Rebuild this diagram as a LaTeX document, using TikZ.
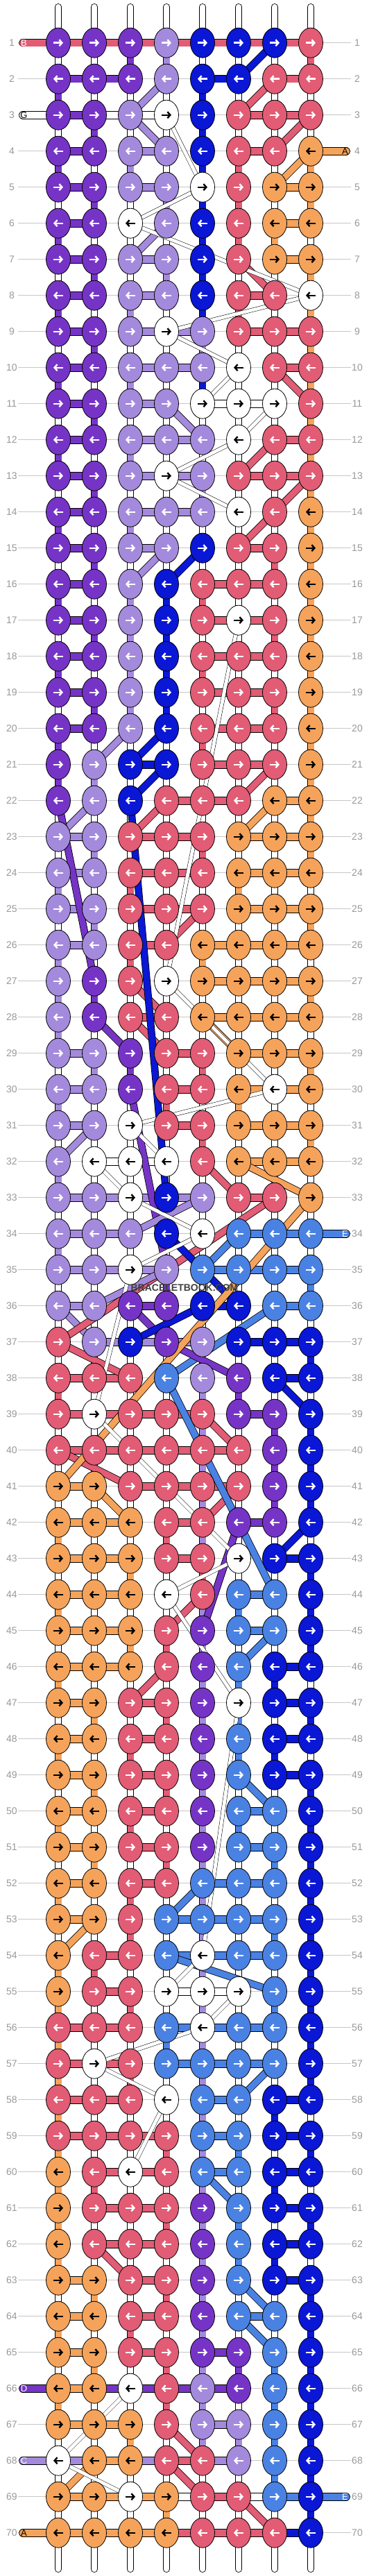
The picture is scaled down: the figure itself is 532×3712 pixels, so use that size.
\documentclass[tikz,border=0pt]{standalone}
\usepackage{fontspec}
\setmainfont{Liberation Sans}
\usetikzlibrary{arrows.meta,shapes.geometric}
\definecolor{kP}{HTML}{7634C7}
\definecolor{kL}{HTML}{A48ADC}
\definecolor{kB}{HTML}{0A17D5}
\definecolor{kR}{HTML}{E15C74}
\definecolor{kO}{HTML}{F5A35B}
\definecolor{kS}{HTML}{4A82E3}
\definecolor{kW}{HTML}{FFFFFF}
\colorlet{aP}{white}\colorlet{aL}{white}\colorlet{aB}{white}\colorlet{aR}{white}
\colorlet{aS}{white}\colorlet{aO}{black}\colorlet{aW}{black}
\tikzset{
 rowline/.style={draw=black!22, line width=1pt},
 rowlab/.style={text=black!40, font=\fontsize{14}{14}\selectfont, inner sep=0pt},
 colstr/.style={draw=black, line width=0.8pt, double=white, double distance=8.4pt, line cap=round},
 bar/.style={draw=black, line width=0.8pt, double=#1, double distance=9pt},
 hbar/.style={draw=black, line width=0.8pt, double=#1, double distance=10pt},
 lbar/.style={draw=black, line width=0.8pt, double=#1, double distance=10pt, line cap=round},
 wthin/.style={draw=black, line width=0.5pt, double=white, double distance=5pt},
 knot/.style={ellipse, draw=black, line width=0.8pt, minimum width=35pt, minimum height=43pt, inner sep=0pt},
 arr/.style={line width=2.4pt, -{Straight Barb[length=4pt,width=9pt]}},
 lettxt/.style={font=\fontsize{13}{13}\selectfont, inner sep=0pt},
}
\begin{document}
\begin{tikzpicture}[x=1pt,y=1pt]
\useasboundingbox (0,0) rectangle (532,-3712);
\fill[white] (0,0) rectangle (532,-3712);
% knot colours
\foreach \r/\row in {
1/{P,P,P,L,B,B,B,R},2/{P,P,P,L,B,B,R,R},3/{P,P,L,W,B,R,R,R},4/{P,P,L,L,B,R,R,O},
5/{P,P,L,L,W,R,O,O},6/{P,P,W,L,B,R,O,O},7/{P,P,L,L,B,R,O,O},8/{P,P,L,L,B,R,R,W},
9/{P,P,L,W,L,R,R,R},10/{P,P,L,L,L,W,R,R},11/{P,P,L,L,W,W,W,R},12/{P,P,L,L,L,W,R,R},
13/{P,P,L,W,L,R,R,R},14/{P,P,L,L,L,W,R,O},15/{P,P,L,L,B,R,R,O},16/{P,P,L,B,R,R,R,O},
17/{P,P,L,B,R,W,R,O},18/{P,P,L,B,R,R,R,O},19/{P,P,L,B,R,R,R,O},20/{P,P,L,B,R,R,R,O},
21/{P,L,B,B,R,R,R,O},22/{P,L,B,R,R,R,O,O},23/{L,L,R,R,R,O,O,O},24/{L,L,R,R,R,O,O,O},
25/{L,L,R,R,R,O,O,O},26/{L,L,R,R,O,O,O,O},27/{L,P,R,W,O,O,O,O},28/{L,P,R,R,O,O,O,O},
29/{L,L,P,R,R,O,O,O},30/{L,L,P,R,R,O,W,O},31/{L,L,W,R,R,O,O,O},32/{L,W,W,W,R,O,O,O},
33/{L,L,W,B,L,R,R,O},34/{L,L,L,B,W,S,S,S},35/{L,L,W,L,S,S,S,S},36/{L,L,P,P,B,B,S,S},
37/{R,L,B,P,L,B,B,B},38/{R,R,R,S,L,P,B,B},39/{R,W,R,R,R,P,P,B},40/{R,R,R,R,R,R,P,B},
41/{O,O,R,R,R,R,P,B},42/{O,O,O,R,R,P,P,B},43/{O,O,O,R,R,W,B,B},44/{O,O,O,W,R,S,S,B},
45/{O,O,O,R,P,S,S,B},46/{O,O,O,R,P,S,B,B},47/{O,O,R,R,P,W,B,B},48/{O,O,R,R,P,S,B,B},
49/{O,O,R,R,P,S,B,B},50/{O,O,R,R,P,S,S,B},51/{O,O,R,R,P,S,S,B},52/{O,O,R,R,S,S,S,B},
53/{O,O,R,S,S,S,S,B},54/{O,R,R,S,W,S,S,B},55/{O,R,R,W,W,W,S,B},56/{R,R,R,S,W,S,S,B},
57/{R,W,R,S,S,S,S,B},58/{R,R,R,W,S,S,B,B},59/{R,R,R,R,S,S,B,B},60/{O,R,W,R,S,S,B,B},
61/{O,R,R,R,P,S,B,B},62/{O,R,R,R,P,S,B,B},63/{O,O,R,R,P,S,B,B},64/{O,O,R,R,P,S,S,B},
65/{O,O,R,R,P,P,S,B},66/{O,O,W,R,L,P,S,B},67/{O,O,O,R,L,L,S,B},68/{W,O,O,R,R,L,S,B},
69/{O,O,W,O,R,R,S,B},70/{O,O,O,O,R,R,R,B}}{
  \foreach \c [count=\i] in \row {\expandafter\xdef\csname K\r-\i\endcsname{\c}}
}
% grid coordinates, row lines, row numbers
\foreach \r in {1,...,70}{
  \pgfmathsetmacro\yy{-61.7-52*(\r-1)}
  \foreach \c in {1,...,8}{\coordinate (p\r-\c) at ({84+52*(\c-1)},\yy);}
  \coordinate (gl\r) at (26,\yy);
  \coordinate (gr\r) at (506,\yy);
  \draw[rowline] (gl\r) -- (gr\r);
  \node[rowlab] (nl\r) at (17,\yy) {\r};
  \node[rowlab] (nr\r) at (515,\yy) {\r};
}
% vertical white strings
\foreach \c in {1,...,8}{
  \coordinate (top\c) at ({84+52*(\c-1)},-10);
  \coordinate (bot\c) at ({84+52*(\c-1)},-3702);
  \draw[colstr] (top\c) -- (bot\c);
}
% hidden light purple string in column 5
\foreach \r in {37,...,67}{\pgfmathtruncatemacro\rr{\r+1}\draw[bar=kL] (p\r-5) -- (p\rr-5);}
% vertical and diagonal links between successive rows
\foreach \r/\a/\b/\col in {
1/3/3/P,1/4/4/L,1/7/6/B,1/8/8/R,
2/1/1/P,2/4/3/L,2/5/5/B,2/7/6/R,
3/2/2/P,3/3/4/L,3/5/5/B,3/8/7/R,
4/1/1/P,4/3/3/L,4/5/5/B,4/6/6/R,4/8/8/O,4/8/7/O,
5/2/2/P,5/4/4/L,5/5/5/B,5/6/6/R,5/8/8/O,
6/1/1/P,6/4/3/L,6/5/5/B,6/6/6/R,6/7/7/O,
7/2/2/P,7/4/4/L,7/5/5/B,7/6/7/R,7/8/8/O,
8/1/1/P,8/3/3/L,8/5/5/B,8/6/6/R,8/8/8/O,
9/2/2/P,9/5/5/L,9/8/8/O,
10/1/1/P,10/3/3/L,10/5/5/B,10/8/8/O,10/7/8/R,
11/2/2/P,11/4/5/L,11/8/8/O,
12/1/1/P,12/3/3/L,12/8/8/O,12/7/6/R,
13/2/2/P,13/5/5/L,13/8/8/O,13/8/7/R,
14/1/1/P,14/3/3/L,14/7/6/R,14/8/8/O,
15/2/2/P,15/4/3/L,15/5/4/B,15/7/7/R,15/8/8/O,
16/1/1/P,16/3/3/L,16/4/4/B,16/5/5/R,16/8/8/O,
17/2/2/P,17/3/3/L,17/4/4/B,17/7/7/R,17/8/8/O,
18/1/1/P,18/3/3/L,18/4/4/B,18/5/5/R,18/8/8/O,
19/2/2/P,19/3/3/L,19/4/4/B,19/7/7/R,19/8/8/O,
20/1/1/P,20/3/2/L,20/4/3/B,20/5/5/R,20/8/8/O,
21/1/1/P,21/2/2/L,21/4/3/B,21/7/6/R,21/8/8/O,
22/2/1/L,22/4/3/R,22/8/8/O,22/7/6/O,
23/2/2/L,23/5/5/R,23/8/8/O,
24/1/1/L,24/3/3/R,24/6/6/O,
25/2/2/L,25/5/4/R,25/8/8/O,
26/1/1/L,26/3/3/R,26/5/5/O,
27/1/1/L,27/2/2/P,27/3/4/R,27/8/8/O,
28/1/1/L,28/2/3/P,28/3/4/R,28/5/6/O,
29/2/2/L,29/3/3/P,29/5/5/R,29/8/8/O,
30/1/1/L,30/4/4/R,30/6/6/O,
31/2/1/L,31/5/5/R,31/8/8/O,
32/1/1/L,32/5/6/R,
34/1/1/L,34/6/5/S,
35/8/8/S,35/4/4/P,
36/1/2/L,36/3/4/P,
37/8/8/B,
38/1/1/R,38/6/6/P,38/7/8/B,
39/5/6/R,39/7/7/P,39/8/8/B,
40/7/7/P,40/8/8/B,
41/2/3/O,41/6/5/R,41/7/7/P,41/8/8/B,
42/1/1/O,42/4/4/R,42/8/7/B,
43/3/3/O,43/5/5/R,43/8/8/B,
44/1/1/O,44/5/4/R,44/6/6/S,44/8/8/B,
45/3/3/O,45/4/4/R,45/7/6/S,45/8/8/B,
46/1/1/O,46/4/3/R,46/6/6/S,46/7/7/B,
47/2/2/O,47/4/4/R,47/6/6/S,47/8/8/B,
48/1/1/O,48/3/3/R,48/6/6/S,48/7/7/B,
49/2/2/O,49/4/4/R,49/6/7/S,49/8/8/B,
50/1/1/O,50/3/3/R,50/6/6/S,50/8/8/B,
51/2/2/O,51/4/4/R,51/7/7/S,51/8/8/B,
52/1/1/O,52/3/3/R,52/5/4/S,52/8/8/B,
53/2/1/O,53/3/3/R,53/7/7/S,53/8/8/B,
54/1/1/O,54/2/2/R,54/8/8/B,
55/1/1/O,55/3/3/R,55/7/7/S,55/8/8/B,
56/1/1/O,56/4/4/S,56/8/8/B,
57/1/1/O,57/3/3/R,57/7/6/S,57/8/8/B,
58/1/1/O,58/7/7/B,
59/1/1/O,59/4/4/R,59/6/6/S,59/8/8/B,
60/1/1/O,60/2/2/R,60/5/6/S,60/7/7/B,
61/1/1/O,61/4/4/R,61/6/6/S,61/8/8/B,
62/1/1/O,62/2/3/R,62/6/6/S,62/7/7/B,
63/2/2/O,63/4/4/R,63/6/7/S,63/8/8/B,
64/1/1/O,64/3/3/R,64/6/7/S,64/8/8/B,
65/2/2/O,65/4/4/R,65/6/6/P,65/7/7/S,65/8/8/B,
66/1/1/O,66/4/4/R,66/7/7/S,66/8/8/B,
67/3/3/O,67/4/5/R,67/6/6/L,67/7/7/S,67/8/8/B,
68/2/1/O,68/4/5/R,68/7/7/S,68/8/8/B,
69/4/4/O,69/6/7/R,69/8/8/B}{
  \pgfmathtruncatemacro\rr{\r+1}
  \draw[bar=k\col] (p\r-\a) -- (p\rr-\b);
}
% horizontal links between equal neighbours
\foreach \r in {1,...,70}{
  \foreach \i in {1,...,7}{
    \pgfmathtruncatemacro\j{\i+1}
    \edef\ca{\csname K\r-\i\endcsname}\edef\cb{\csname K\r-\j\endcsname}
    \ifx\ca\cb \draw[hbar=k\ca] (p\r-\i) -- (p\r-\j); \fi
  }
}
% further horizontal links
\foreach \r/\i/\col in {
1/1/R,1/2/R,1/3/R,1/4/R,1/5/R,1/6/R,1/7/R,3/2/W,3/3/W,9/3/L,9/4/L,13/3/L,13/4/L,
17/5/R,17/6/R,30/6/O,30/7/O,33/2/L,33/3/L,33/4/L,35/2/L,35/3/L,37/2/L,37/3/L,37/4/L,
39/1/R,39/2/R,54/4/S,54/5/S,56/4/S,56/5/S,57/1/R,57/2/R,60/2/R,60/3/R,
66/2/P,66/3/P,66/4/P,66/5/P,68/1/L,68/3/L,68/5/L,69/2/O,69/3/O,69/4/W,69/6/W,69/7/S,
70/4/R,70/7/B}{
  \pgfmathtruncatemacro\j{\i+1}
  \draw[hbar=k\col] (p\r-\i) -- (p\r-\j);
}
% long coloured strings
\foreach \ra/\ca/\rb/\cb/\col in {
22/1/27/2/P,22/3/33/4/B,30/3/35/4/P,32/6/33/8/O,33/5/34/3/L,33/7/37/1/R,
35/4/36/2/L,36/7/38/4/S,37/1/38/3/R,37/4/38/6/P,38/4/42/6/S,42/6/44/7/S,
34/4/36/6/B,36/5/37/3/B,
40/1/41/3/R,42/6/45/5/P,54/4/55/7/S,33/8/41/1/O}{
  \draw[bar=k\col] (p\ra-\ca) -- (p\rb-\cb);
}
% white strings
\foreach \ra/\ca/\rb/\cb in {
3/4/5/5,5/5/6/3,6/3/8/8,8/8/9/4,9/4/10/6,10/6/11/5,11/7/12/6,12/6/13/4,13/4/14/6,
17/6/27/4,27/4/30/7,30/7/31/3,31/3/32/4,32/2/33/3,33/3/34/5,34/5/35/3,35/3/39/2,
39/2/43/6,43/6/44/4,44/4/47/6,47/6/54/5,54/5/55/4,55/6/56/5,56/5/57/2,57/2/58/4,
58/4/60/3,66/3/68/1,68/1/69/3}{
  \draw[wthin] (p\ra-\ca) -- (p\rb-\cb);
}
% string ends with letters
\foreach \r/\col/\txt/\tc in {1/R/B/white,3/W/G/black,66/P/D/white,68/L/C/white,70/O/A/black}{
  \pgfmathsetmacro\yy{-61.7-52*(\r-1)}
  \coordinate (la\r) at (33,\yy);
  \draw[lbar=k\col] (la\r) -- (p\r-1);
  \node[lettxt, text=\tc] (lt\r) at (34.5,\yy) {\txt};
}
\foreach \r/\col/\txt/\tc in {4/O/A/black,34/S/E/white,69/S/E/white}{
  \pgfmathsetmacro\yy{-61.7-52*(\r-1)}
  \coordinate (ra\r) at (499,\yy);
  \draw[lbar=k\col] (p\r-8) -- (ra\r);
  \node[lettxt, text=\tc] (rt\r) at (497.5,\yy) {\txt};
}
% knots
\foreach \r in {1,...,70}{
  \foreach \c in {1,...,8}{
    \edef\kc{\csname K\r-\c\endcsname}
    \node[knot, fill=k\kc] (k\r-\c) at (p\r-\c) {};
    \ifodd\r\relax
      \draw[arr, draw=a\kc] ([xshift=-7pt]k\r-\c.center) -- ([xshift=7pt]k\r-\c.center);
    \else
      \draw[arr, draw=a\kc] ([xshift=7pt]k\r-\c.center) -- ([xshift=-7pt]k\r-\c.center);
    \fi
  }
}
\node[font=\bfseries\fontsize{14}{14}\selectfont, text=black!75, inner sep=0pt] (wm) at (266,-1856) {BRACELETBOOK.COM};
\end{tikzpicture}
\end{document}
